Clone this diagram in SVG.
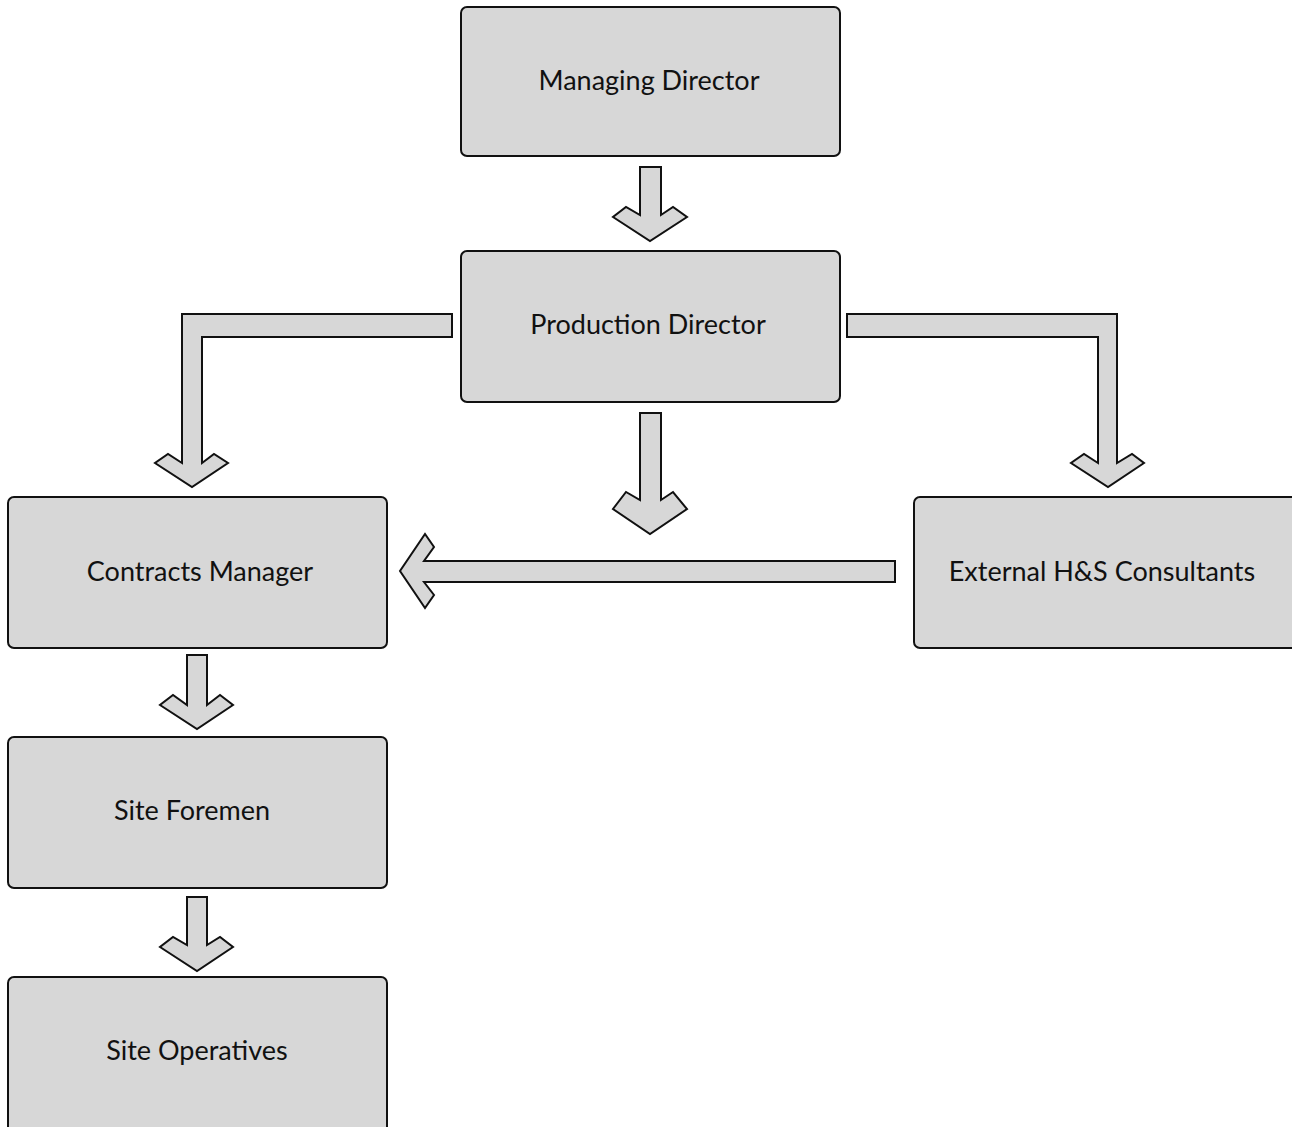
<svg xmlns="http://www.w3.org/2000/svg" width="1292" height="1127" viewBox="0 0 1292 1127">
<style>
.box{fill:#d7d7d7;stroke:#111;stroke-width:2}
.arr{fill:#d7d7d7;stroke:#111;stroke-width:2;stroke-linejoin:miter}
.lbl{font-family:Lato,"Open Sans","Liberation Sans",sans-serif;font-size:27px;fill:#111;text-anchor:middle}
</style>
<rect width="1292" height="1127" fill="#fff"/>
<g id="connectors">
<path class="arr" d="M640,167 H661 V215 L673,207 L687,217 L650,241 L613,217 L626,207 L640,215 Z"/>
<path class="arr" d="M640,413 H661 V500 L673,492 L687,509 L650,534 L613,509 L626,492 L640,500 Z"/>
<path class="arr" d="M187,655 H207 V705 L220,695 L233,705 L197,729 L160,705 L173,695 L187,705 Z"/>
<path class="arr" d="M187,897 H207 V945 L220,937 L233,947 L197,971 L160,947 L173,937 L187,945 Z"/>
<path class="arr" d="M452,314 V337 H202 V463 L214,454 L228,463 L192,487 L155,463 L168,454 L182,463 V314 Z"/>
<path class="arr" d="M847,314 V337 H1098 V463 L1084,454 L1071,463 L1108,487 L1144,463 L1132,454 L1117,463 V314 Z"/>
<path class="arr" d="M895,561 V582 H424 L434,595 L425,608 L400,571 L425,534 L434,547 L424,561 Z"/>
</g>
<g id="managing-director">
<rect class="box" x="461" y="7" width="379" height="149" rx="6"/>
<text class="lbl" x="649" y="90">Managing Director</text>
</g>
<g id="production-director">
<rect class="box" x="461" y="251" width="379" height="151" rx="6"/>
<text class="lbl" x="648" y="334">Production Director</text>
</g>
<g id="contracts-manager">
<rect class="box" x="8" y="497" width="379" height="151" rx="6"/>
<text class="lbl" x="200" y="581">Contracts Manager</text>
</g>
<g id="external-hs-consultants">
<rect class="box" x="914" y="497" width="384" height="151" rx="6"/>
<text class="lbl" x="1102" y="581">External H&amp;S Consultants</text>
</g>
<g id="site-foremen">
<rect class="box" x="8" y="737" width="379" height="151" rx="6"/>
<text class="lbl" x="192" y="820">Site Foremen</text>
</g>
<g id="site-operatives">
<rect class="box" x="8" y="977" width="379" height="160" rx="6"/>
<text class="lbl" x="197" y="1060">Site Operatives</text>
</g>
</svg>
